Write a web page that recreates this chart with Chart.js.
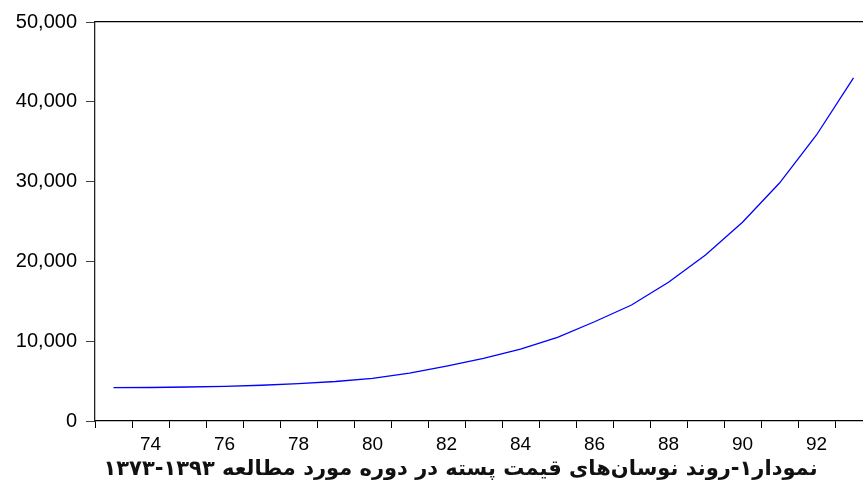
<!DOCTYPE html>
<html>
<head>
<meta charset="utf-8">
<script src="https://cdn.jsdelivr.net/npm/chart.js@4"></script>
<style>
  html, body { margin: 0; padding: 0; background: #fff; overflow: hidden; }
  #wrap { position: absolute; left: 0; top: 0; width: 880px; height: 461px; }
  #caption {
    position: absolute; left: 0; width: 921px; top: 456px;
    text-align: center; direction: rtl; white-space: nowrap;
    font: bold 21px "DejaVu Sans", sans-serif; color: #111;
  }
</style>
</head>
<body>
<div id="wrap"><canvas id="chart" width="880" height="461"></canvas></div>
<div id="caption">نمودار۱-روند نوسان‌های قیمت پسته در دوره مورد مطالعه ۱۳۹۳-۱۳۷۳</div>
<script>
// ============================================================
// DATA
// ============================================================
const years = [73, 74, 75, 76, 77, 78, 79, 80, 81, 82, 83, 84, 85, 86, 87, 88, 89, 90, 91, 92, 93];
const prices = [4170, 4200, 4260, 4350, 4480, 4680, 4950, 5330, 6000, 6890, 7860, 9020,
  10490, 12440, 14540, 17380, 20800, 24900, 29820, 35840, 43000];
const yTicks = [0, 10000, 20000, 30000, 40000, 50000];

// ============================================================
// CHART
// ============================================================
const ctx = document.getElementById("chart").getContext("2d");
new Chart(ctx, {
  type: "line",
  data: {
    labels: years,
    datasets: [
      {
        data: prices,
        borderColor: "#0000ff",
        borderWidth: 1.3,
        pointRadius: 0,
        tension: 0,
        fill: false,
      },
    ],
  },
  options: {
    responsive: false,
    animation: false,
    layout: { padding: { top: 22, right: 8, left: 0, bottom: 0 } },
    plugins: { legend: { display: false }, tooltip: { enabled: false } },
    scales: {
      x: {
        type: "category",
        offset: true,
        grid: { offset: true, drawOnChartArea: false, tickLength: 7, color: "#000", lineWidth: 1 },
        border: { color: "#000", width: 1.3 },
        ticks: {
          autoSkip: false,
          maxRotation: 0,
          padding: 5,
          color: "#000",
          font: { family: "Liberation Sans, Arial", size: 19 },
          callback: (v, i) => (years[i] % 2 === 0 ? String(years[i]) : ""),
        },
        afterFit: (s) => { s.height = 40; },
      },
      xTop: {
        type: "linear",
        position: "top",
        min: 0,
        max: 1,
        ticks: { display: false },
        grid: { drawOnChartArea: false, drawTicks: false },
        border: { color: "#000", width: 1.3 },
        afterFit: (s) => { s.height = 0; },
      },
      y: {
        min: 0,
        max: 50000,
        afterBuildTicks: (s) => { s.ticks = yTicks.map((v) => ({ value: v })); },
        grid: { drawOnChartArea: false, tickLength: 9, color: "#444" },
        border: { color: "#222", width: 1.3 },
        ticks: {
          padding: 9,
          color: "#000",
          font: { family: "Liberation Sans, Arial", size: 20 },
          callback: (v) => v.toLocaleString("en-US"),
        },
        afterFit: (s) => { s.width = 95; },
      },
    },
  },
});
</script>
</body>
</html>
